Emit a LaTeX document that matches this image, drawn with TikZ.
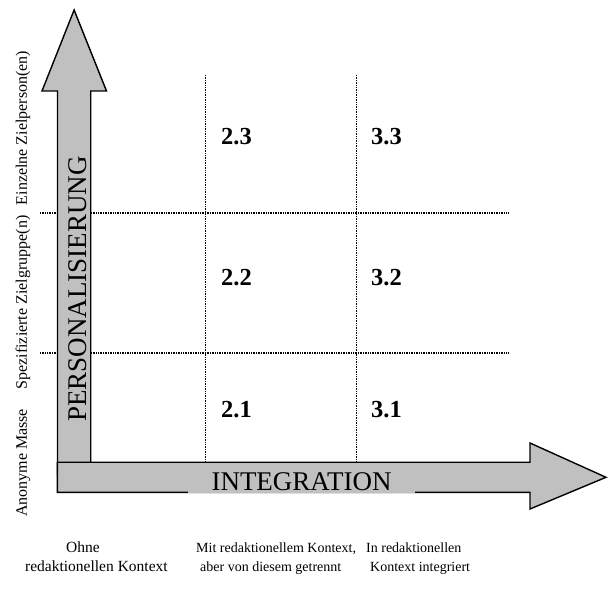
\documentclass[tikz,border=0pt]{standalone}
\usepackage{fontspec}
\setmainfont{Liberation Serif}
\definecolor{axisgray}{RGB}{192,192,192}
\begin{document}
\begin{tikzpicture}[x=1pt,y=-1pt,
  arrowbody/.style={fill=axisgray,draw=black,line width=1.4pt,line join=miter},
  gridline/.style={line width=1.2pt,dash pattern=on 1pt off 0.7pt},
  cell/.style={font=\fontsize{24.5}{28}\selectfont\bfseries,anchor=base west,inner sep=0pt},
  axislabel/.style={font=\fontsize{27}{30}\selectfont,inner sep=0pt},
  sidelabel/.style={font=\fontsize{16}{19}\selectfont,rotate=90,anchor=base,inner sep=0pt},
  bottomlabel/.style={font=\fontsize{14}{19}\selectfont,align=left,anchor=north west,inner sep=0pt}
]
\useasboundingbox (0,0) rectangle (608,593);

% dotted cell grid
\coordinate (c1top) at (205.7,75);
\coordinate (c1bot) at (205.7,462);
\coordinate (c2top) at (356.7,75);
\coordinate (c2bot) at (356.7,462);
\coordinate (r1l) at (40,213);
\coordinate (r1r) at (508,213);
\coordinate (r2l) at (40,353);
\coordinate (r2r) at (508,353);
\draw[gridline] (c1top) -- (c1bot);
\draw[gridline] (c2top) -- (c2bot);
\draw[gridline] (r1l) -- (r1r);
\draw[gridline] (r2l) -- (r2r);

% vertical block arrow
\path[arrowbody] (57.5,475) -- (57.5,91) -- (42,91) -- (74.1,10) -- (106.5,91)
  -- (90.7,91) -- (90.7,475) -- cycle;
% horizontal block arrow, drawn over the vertical one
\path[arrowbody] (57.3,462.3) -- (530,462.3) -- (530,443) -- (606,477.3)
  -- (530,509) -- (530,492.3) -- (57.3,492.3) -- cycle;

% axis titles
\node (integ) [axislabel,fill=axisgray,minimum width=227pt,minimum height=24pt,anchor=base]
  at (301.5,490) {INTEGRATION};
\node (pers) [axislabel,rotate=90,anchor=base] at (86.7,289) {PERSONALISIERUNG};

% cell numbers
\node (n23) [cell] at (221,145) {2.3};
\node (n33) [cell] at (371,145) {3.3};
\node (n22) [cell] at (221,286) {2.2};
\node (n32) [cell] at (371,286) {3.2};
\node (n21) [cell] at (221,418) {2.1};
\node (n31) [cell] at (371,418) {3.1};

% personalisation levels
\node (lev3) [sidelabel] at (27,128) {Einzelne Zielperson(en)};
\node (lev2) [sidelabel] at (27,302.5) {Spezifizierte Zielgruppe(n)};
\node (lev1) [sidelabel] at (27,463) {Anonyme Masse};

% integration levels
\node (int1) [bottomlabel,font=\fontsize{15.5}{19}\selectfont] at (25,542)
  {\hspace*{41pt}Ohne\\redaktionellen Kontext};
\node (int2) [bottomlabel] at (196,543) {Mit redaktionellem Kontext,\\\hspace*{4pt}aber von diesem getrennt};
\node (int3) [bottomlabel] at (366,543) {In redaktionellen\\\hspace*{4pt}Kontext integriert};
\end{tikzpicture}
\end{document}
